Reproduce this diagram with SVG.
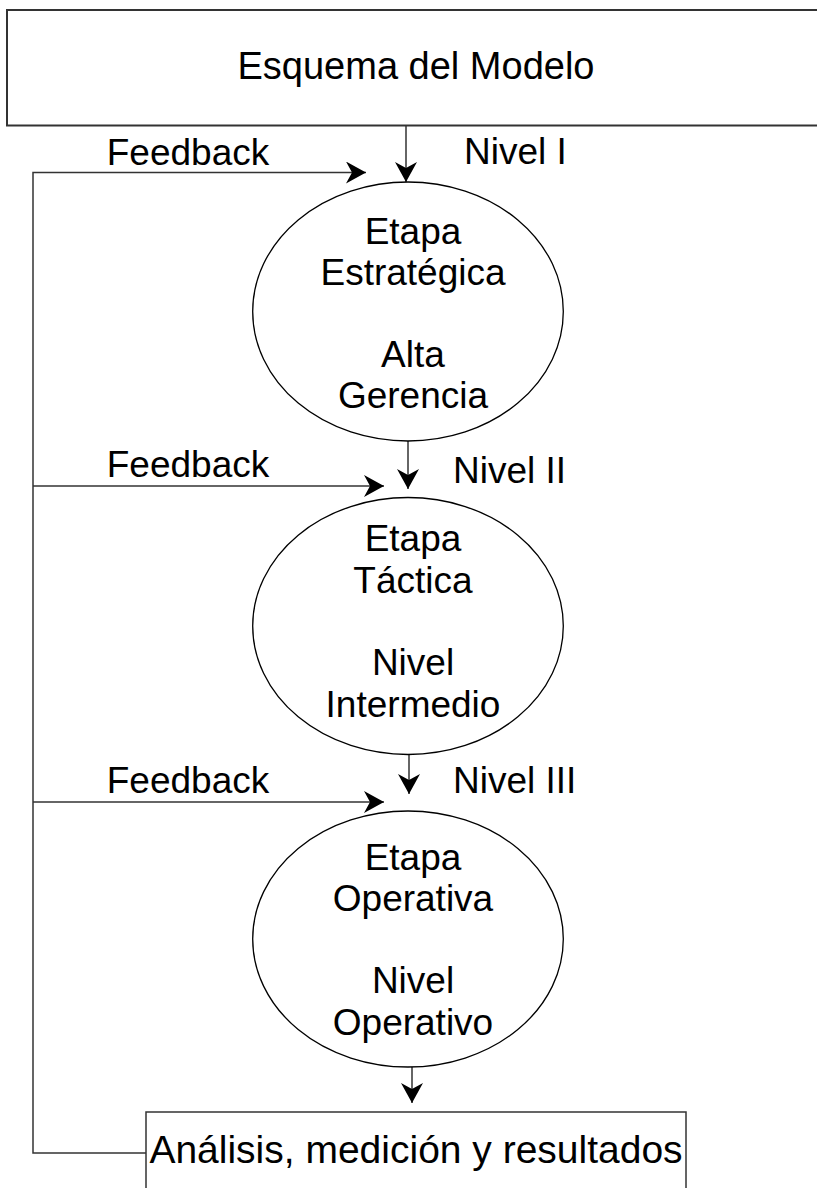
<svg xmlns="http://www.w3.org/2000/svg" width="817" height="1188" viewBox="0 0 817 1188">
  <style>
    .box { fill: #ffffff; stroke: #333333; stroke-width: 2; }
    .ell { fill: #ffffff; stroke: #000000; stroke-width: 1.3; }
    .line { fill: none; stroke: #333333; stroke-width: 1.5; }
    text { font-family: "Liberation Sans", Arial, sans-serif; font-size: 37px; fill: #000000; }
    .c { text-anchor: middle; }
  </style>
  <defs>
    <marker id="arrow" viewBox="0 0 20 22" refX="20" refY="11" markerWidth="20" markerHeight="22" markerUnits="userSpaceOnUse" orient="auto">
      <path d="M0,0 L20,11 L0,22 L6,11 Z" fill="#000000"/>
    </marker>
  </defs>
  <rect width="817" height="1188" fill="#ffffff"/>

  <g id="connectors">
    <line class="line" x1="406" y1="126" x2="406" y2="182" marker-end="url(#arrow)"/>
    <line class="line" x1="408" y1="441" x2="408" y2="489" marker-end="url(#arrow)"/>
    <line class="line" x1="409" y1="754" x2="409" y2="794" marker-end="url(#arrow)"/>
    <line class="line" x1="412" y1="1067" x2="412" y2="1103" marker-end="url(#arrow)"/>
    <polyline class="line" points="146,1153 33,1153 33,172.5 366,172.5" marker-end="url(#arrow)"/>
    <line class="line" x1="33" y1="486" x2="384" y2="486" marker-end="url(#arrow)"/>
    <line class="line" x1="33" y1="802" x2="384" y2="802" marker-end="url(#arrow)"/>
  </g>

  <g id="labels">
    <text x="188" y="165" class="c">Feedback</text>
    <text x="464" y="164">Nivel I</text>
    <text x="188" y="477" class="c">Feedback</text>
    <text x="453" y="483">Nivel II</text>
    <text x="188" y="793" class="c">Feedback</text>
    <text x="453" y="793">Nivel III</text>
  </g>

  <g id="esquema">
    <rect class="box" x="7" y="10" width="830" height="115.5"/>
    <text x="416" y="79" class="c" style="font-size:38px">Esquema del Modelo</text>
  </g>

  <g id="etapa-estrategica">
    <ellipse class="ell" cx="408" cy="311.5" rx="155.3" ry="129.5"/>
    <text x="413" y="243.5" class="c">Etapa</text>
    <text x="413" y="284.5" class="c">Estratégica</text>
    <text x="413" y="366.5" class="c">Alta</text>
    <text x="413" y="407.5" class="c">Gerencia</text>
  </g>

  <g id="etapa-tactica">
    <ellipse class="ell" cx="408" cy="626" rx="155.3" ry="128.5"/>
    <text x="413" y="551" class="c">Etapa</text>
    <text x="413" y="592.5" class="c">Táctica</text>
    <text x="413" y="675" class="c">Nivel</text>
    <text x="413" y="716.5" class="c">Intermedio</text>
  </g>

  <g id="etapa-operativa">
    <ellipse class="ell" cx="408" cy="939" rx="155.3" ry="128"/>
    <text x="413" y="869.5" class="c">Etapa</text>
    <text x="413" y="911" class="c">Operativa</text>
    <text x="413" y="993" class="c">Nivel</text>
    <text x="413" y="1034.5" class="c">Operativo</text>
  </g>

  <g id="analisis">
    <rect class="box" x="146" y="1112" width="540" height="110" style="stroke-width:1.5"/>
    <text x="416" y="1163" class="c" style="font-size:39px">Análisis, medición y resultados</text>
  </g>
</svg>
